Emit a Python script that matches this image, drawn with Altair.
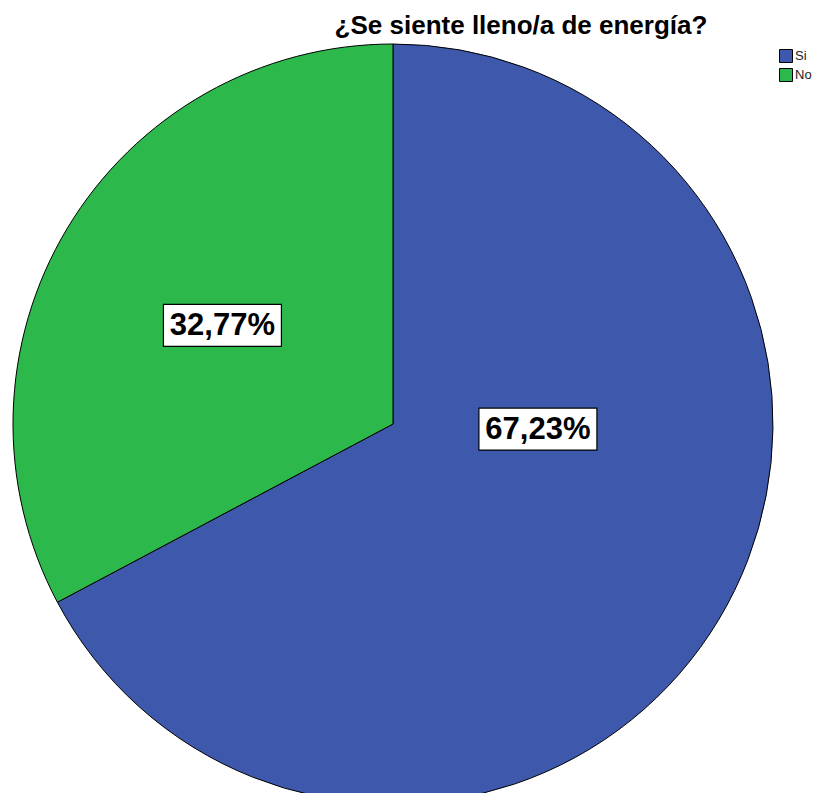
import altair as alt
import pandas as pd

# ---- data ----
categories = ["Si", "No"]
percentages = [67.23, 32.77]
slice_colors = ["#3e58ac", "#2db84c"]
title_text = "¿Se siente lleno/a de energía?"

labels = [f"{p:.2f}%".replace(".", ",") for p in percentages]
df = pd.DataFrame({
    "cat": categories,
    "pct": percentages,
    "ord": list(range(len(categories))),
    "label": labels,
})

# ---- layout / style ----
CX, CY, R = 385, 416, 380
FONT = "Liberation Sans"
# label placement (polar: radius and angular nudge from slice mid-angle)
LBL_R = {"Si": 145, "No": 197}
LBL_SHIFT = {"Si": -29, "No": -1}
BOX_W, BOX_H = 118, 42

pie = alt.Chart(df).mark_arc(outerRadius=R, stroke="black", strokeWidth=1).encode(
    theta=alt.Theta("pct:Q", stack=True),
    color=alt.Color(
        "cat:N",
        scale=alt.Scale(domain=categories, range=slice_colors),
        legend=alt.Legend(
            title=None,
            orient="none",
            legendX=771,
            legendY=41,
            symbolType="square",
            symbolSize=169,
            symbolStrokeColor="black",
            symbolStrokeWidth=1,
            symbolOpacity=1,
            labelFont=FONT,
            labelFontSize=13,
            labelColor="#222222",
            labelOffset=2,
            rowPadding=1,
        ),
    ),
    order=alt.Order("ord:Q"),
    x=alt.value(CX),
    y=alt.value(CY),
)

r_expr = f"datum.cat == 'Si' ? {LBL_R['Si']} : {LBL_R['No']}"
s_expr = f"datum.cat == 'Si' ? {LBL_SHIFT['Si']} : {LBL_SHIFT['No']}"

lbl_base = alt.Chart(df).transform_window(
    cum="sum(pct)", sort=[alt.SortField("ord")]
).transform_calculate(
    mid="(datum.cum - datum.pct/2) / 100 * 2 * PI",
    lr=r_expr,
    ls=s_expr,
).transform_calculate(
    ang="datum.mid + datum.ls * PI / 180"
).transform_calculate(
    lx=f"{CX} + datum.lr * sin(datum.ang)",
    ly=f"{CY} - datum.lr * cos(datum.ang)",
).transform_calculate(
    bx1=f"datum.lx - {BOX_W/2}",
    bx2=f"datum.lx + {BOX_W/2}",
    by1=f"datum.ly - {BOX_H/2}",
    by2=f"datum.ly + {BOX_H/2}",
)

boxes = lbl_base.mark_rect(fill="white", stroke="black", strokeWidth=1.2).encode(
    x=alt.X("bx1:Q", scale=None, axis=None),
    x2="bx2:Q",
    y=alt.Y("by1:Q", scale=None, axis=None),
    y2="by2:Q",
)

texts = lbl_base.mark_text(
    font=FONT, fontSize=31, fontWeight="bold", color="black",
    align="center", baseline="middle", dy=1,
).encode(
    x=alt.X("lx:Q", scale=None, axis=None),
    y=alt.Y("ly:Q", scale=None, axis=None),
    text="label:N",
)

title = alt.Chart(pd.DataFrame({"t": [title_text]})).mark_text(
    font=FONT, fontSize=26, fontWeight="bold", color="black",
    align="center", baseline="alphabetic",
).encode(
    x=alt.value(513),
    y=alt.value(26),
    text="t:N",
)

chart = alt.layer(pie, boxes, texts, title).properties(
    width=806,
    height=785,
    autosize=alt.AutoSizeParams(type="none"),
    padding=0,
).configure_view(stroke=None)

chart.save("out.html", embed_options={"renderer": "svg", "actions": False})
